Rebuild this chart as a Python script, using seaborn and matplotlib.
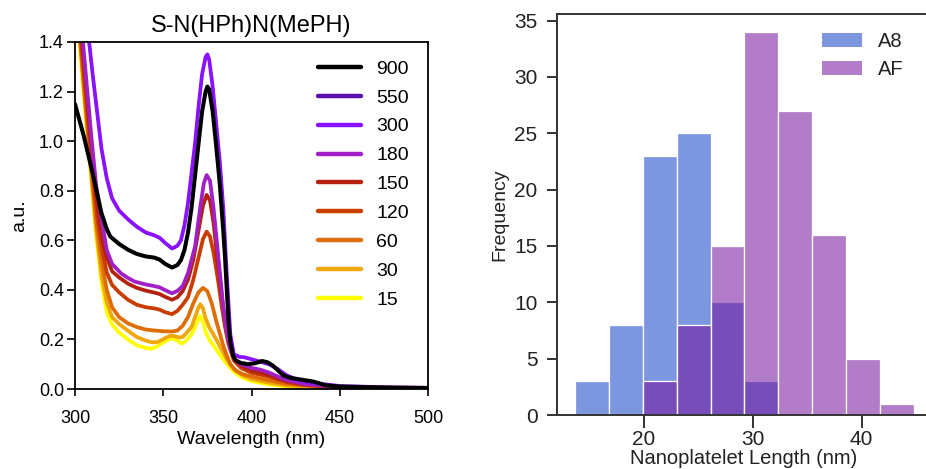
import numpy as np
import pandas as pd
import matplotlib
matplotlib.use("Agg")
import matplotlib.pyplot as plt
from matplotlib.patches import Patch
from matplotlib.lines import Line2D
import seaborn as sns

sns.set_style("ticks")
plt.rcParams['font.family'] = ['Liberation Sans', 'DejaVu Sans']
plt.rcParams['text.color'] = 'black'
plt.rcParams['axes.labelcolor'] = 'black'
plt.rcParams['xtick.color'] = 'black'
plt.rcParams['ytick.color'] = 'black'

# ---------------- Left panel data (absorbance spectra) ----------------
title_left = "S-N(HPh)N(MePH)"
series_labels = ["900", "550", "300", "180", "150", "120", "60", "30", "15"]
series_colors = ["#000000", "#5b0fae", "#8a12ff", "#a11fc4", "#b4220e",
                 "#c93d02", "#de6d05", "#f0a70c", "#ffff00"]

wl_900 = [300, 305, 310, 315, 318, 320, 325, 330, 335, 340, 345, 348, 351, 355, 358, 360, 362,
          364, 366, 368, 370, 372, 374, 375, 376, 378, 380, 382, 384, 385, 386, 387, 388, 389.5,
          391, 394, 398, 402, 406, 409, 412, 415, 418, 422, 428, 435, 442, 450, 475, 500]
ab_900 = [1.15, 1.02, 0.87, 0.71, 0.645, 0.615, 0.585, 0.562, 0.545, 0.535, 0.53, 0.522, 0.505,
          0.49, 0.5, 0.52, 0.56, 0.63, 0.73, 0.86, 0.99, 1.12, 1.2, 1.22, 1.21, 1.12, 0.98, 0.83,
          0.64, 0.53, 0.4, 0.27, 0.19, 0.135, 0.115, 0.105, 0.1, 0.104, 0.113, 0.108, 0.095,
          0.075, 0.055, 0.045, 0.038, 0.03, 0.015, 0.01, 0.006, 0.004]

wl_300 = [300, 305, 308, 310, 312, 315, 318, 321, 325, 330, 335, 340, 345, 348, 351, 355, 358,
          360, 362, 364, 366, 368, 370, 372, 374, 375, 376, 378, 380, 382, 384, 386, 388, 390,
          393, 396, 400, 405, 410, 415, 420, 425, 430, 440, 450, 475, 500]
ab_300 = [1.9, 1.6, 1.4, 1.27, 1.15, 0.97, 0.85, 0.77, 0.72, 0.685, 0.655, 0.632, 0.62, 0.61,
          0.59, 0.567, 0.578, 0.6, 0.66, 0.75, 0.87, 0.99, 1.14, 1.27, 1.34, 1.35, 1.33, 1.22,
          1.07, 0.92, 0.73, 0.46, 0.22, 0.14, 0.13, 0.128, 0.12, 0.11, 0.1, 0.08, 0.055, 0.04,
          0.03, 0.02, 0.012, 0.007, 0.005]

wl_550 = [300, 305, 308, 310, 312, 315, 318, 321, 325, 330, 335, 340, 345, 348, 351, 355, 358,
          360, 362, 364, 366, 368, 370, 372, 374, 375, 376, 378, 380, 382, 384, 386, 388, 390,
          393, 396, 400, 405, 410, 415, 420, 425, 430, 440, 450, 475, 500]
ab_550 = [1.9, 1.6, 1.4, 1.268, 1.148, 0.968, 0.848, 0.768, 0.718, 0.683, 0.653, 0.63, 0.618,
          0.608, 0.588, 0.565, 0.576, 0.598, 0.658, 0.748, 0.868, 0.988, 1.138, 1.268, 1.338,
          1.348, 1.328, 1.218, 1.068, 0.918, 0.728, 0.459, 0.219, 0.139, 0.129, 0.127, 0.119,
          0.109, 0.099, 0.079, 0.054, 0.039, 0.029, 0.019, 0.011, 0.006, 0.004]

wl_180 = [300, 304.5, 307, 309.5, 312, 315, 318, 321, 326, 330, 334, 340, 345, 348, 351, 355,
          358, 361, 364, 368, 371, 373, 374.6, 376.5, 378.4, 381.2, 384, 386, 388, 391, 394, 400,
          405, 410, 415, 420, 430, 450, 500]
ab_180 = [2.0, 1.4, 1.2, 1.0, 0.82, 0.69, 0.56, 0.505, 0.467, 0.448, 0.433, 0.422, 0.415, 0.41,
          0.399, 0.386, 0.396, 0.415, 0.467, 0.574, 0.735, 0.83, 0.863, 0.84, 0.735, 0.534,
          0.332, 0.23, 0.16, 0.115, 0.1, 0.085, 0.078, 0.066, 0.05, 0.036, 0.02, 0.008, 0.003]

wl_150 = [300, 304, 306.5, 309, 312, 314, 316, 318, 321, 325, 330, 335, 340, 345, 348, 351, 355,
          358, 361, 364, 367, 370, 372.5, 374.6, 376.5, 378.5, 381, 383, 385, 387, 390, 394, 400,
          405, 410, 415, 420, 430, 450, 500]
ab_150 = [1.95, 1.4, 1.2, 1.0, 0.78, 0.67, 0.59, 0.53, 0.475, 0.45, 0.425, 0.408, 0.397, 0.389,
          0.383, 0.372, 0.36, 0.37, 0.395, 0.44, 0.52, 0.64, 0.74, 0.783, 0.76, 0.67, 0.5, 0.38,
          0.27, 0.19, 0.125, 0.095, 0.075, 0.066, 0.056, 0.043, 0.032, 0.018, 0.007, 0.003]

wl_120 = [300, 303.5, 306, 308, 311, 313, 316, 318, 321, 325, 330, 335, 340, 345, 348, 351, 355,
          358, 361, 364, 367, 370, 372.5, 374.6, 376.5, 378.5, 381, 383, 385, 387, 390, 394, 400,
          405, 410, 415, 420, 430, 450, 500]
ab_120 = [1.9, 1.4, 1.2, 1.03, 0.8, 0.67, 0.54, 0.47, 0.42, 0.39, 0.36, 0.34, 0.33, 0.325, 0.32,
          0.31, 0.302, 0.315, 0.34, 0.37, 0.44, 0.53, 0.605, 0.635, 0.615, 0.55, 0.44, 0.34, 0.25,
          0.18, 0.115, 0.085, 0.065, 0.058, 0.05, 0.038, 0.028, 0.016, 0.006, 0.003]

wl_60 = [300, 303, 305, 307, 310, 312, 315, 318, 321, 325, 330, 335, 340, 345, 350, 355, 358,
         361, 364, 367, 370, 372.5, 375, 377.5, 380, 382, 384, 386, 388, 391, 395, 400, 410, 420,
         450, 500]
ab_60 = [1.8, 1.4, 1.22, 1.06, 0.83, 0.68, 0.52, 0.4, 0.33, 0.29, 0.265, 0.25, 0.24, 0.236,
         0.233, 0.232, 0.236, 0.255, 0.29, 0.345, 0.39, 0.408, 0.395, 0.345, 0.275, 0.225, 0.175,
         0.135, 0.1, 0.075, 0.06, 0.05, 0.035, 0.02, 0.006, 0.002]

wl_30 = [300, 303, 305, 307, 310, 312, 315, 318, 321, 325, 330, 335, 340, 344, 347, 351, 354,
         356, 359, 361, 363, 366, 368, 370, 371, 372.5, 374, 376, 378, 380, 383, 386, 390, 395,
         400, 410, 420, 450, 500]
ab_30 = [1.75, 1.4, 1.22, 1.05, 0.8, 0.64, 0.46, 0.35, 0.29, 0.262, 0.235, 0.21, 0.195, 0.188,
         0.19, 0.205, 0.215, 0.214, 0.208, 0.21, 0.225, 0.25, 0.29, 0.33, 0.342, 0.325, 0.285,
         0.25, 0.225, 0.2, 0.16, 0.12, 0.08, 0.055, 0.04, 0.025, 0.014, 0.004, 0.002]

wl_15 = [300, 302.5, 305, 307, 310, 312, 315, 318, 321, 325, 330, 335, 340, 343, 346, 350, 353,
         355, 358, 360.5, 363, 366, 368, 370, 371, 372.5, 374, 376, 378, 380, 382, 385, 390, 395,
         400, 410, 420, 450, 500]
ab_15 = [1.75, 1.4, 1.18, 1.02, 0.78, 0.62, 0.43, 0.31, 0.26, 0.228, 0.2, 0.176, 0.166, 0.162,
         0.17, 0.188, 0.2, 0.205, 0.195, 0.183, 0.195, 0.22, 0.25, 0.285, 0.295, 0.27, 0.23, 0.2,
         0.18, 0.16, 0.14, 0.11, 0.07, 0.045, 0.032, 0.018, 0.01, 0.003, 0.002]

spectra = {
    "900": (wl_900, ab_900), "550": (wl_550, ab_550), "300": (wl_300, ab_300),
    "180": (wl_180, ab_180), "150": (wl_150, ab_150), "120": (wl_120, ab_120),
    "60": (wl_60, ab_60), "30": (wl_30, ab_30), "15": (wl_15, ab_15),
}
draw_order = ["15", "30", "60", "120", "150", "180", "550", "300", "900"]

# ---------------- Right panel data (histogram) ----------------
bin_edges = [13.67, 16.78, 19.89, 23.0, 26.11, 29.22, 32.33, 35.44, 38.55, 41.66, 44.77]
counts_A8 = [3, 8, 23, 25, 10, 3, 0, 0, 0, 0]
counts_AF = [0, 0, 3, 8, 15, 34, 27, 16, 5, 1]
hist_labels = ["A8", "AF"]
hist_colors = ["#1340c8", "#73119b"]

# ---------------- Figure ----------------
W, H = 926, 469
fig = plt.figure(figsize=(W / 100, H / 100), dpi=100)

ax1 = fig.add_axes([75 / W, 1 - 389 / H, 353 / W, 347 / H])
for lab in draw_order:
    x, y = spectra[lab]
    col = series_colors[series_labels.index(lab)]
    lw = 2.9 if lab == "900" else (1.8 if lab == "550" else 2.7)
    sns.lineplot(x=x, y=y, ax=ax1, color=col, lw=lw,
                 sort=False, estimator=None, legend=False)

ax1.set_xlim(300, 500)
ax1.set_ylim(0, 1.4)
ax1.set_xticks([300, 350, 400, 450, 500])
ax1.set_yticks(np.arange(0, 1.41, 0.2))
ax1.set_yticklabels([f"{v:.1f}" for v in np.arange(0, 1.41, 0.2)])
ax1.tick_params(axis='y', labelsize=13, length=6, width=1.2, pad=2, direction='out')
ax1.tick_params(axis='x', labelsize=13, length=5, width=1.2, pad=10, direction='out')
for s in ax1.spines.values():
    s.set_linewidth(1.3)
    s.set_color("black")
ax1.set_xlabel("Wavelength (nm)", fontsize=14, labelpad=3)
ax1.set_ylabel("a.u.", fontsize=14, labelpad=8)
ax1.set_title(title_left, fontsize=17, pad=7)

handles = [Line2D([0], [0], color=c, lw=3.2) for c in series_colors]
ax1.legend(handles, series_labels, loc="upper left", bbox_to_anchor=(0.688, 0.948),
           frameon=False, fontsize=14, handlelength=2.2, handletextpad=0.8,
           labelspacing=0.58, borderpad=0, borderaxespad=0)

# Right panel
ax2 = fig.add_axes([557 / W, 1 - 415 / H, (930 - 557) / W, 401 / H])
centers = [(bin_edges[i] + bin_edges[i + 1]) / 2 for i in range(len(bin_edges) - 1)]
for lab, cnt, col in zip(hist_labels, [counts_A8, counts_AF], hist_colors):
    sns.histplot(x=centers, weights=cnt, bins=bin_edges, ax=ax2, color=col, alpha=0.55,
                 edgecolor="white", linewidth=0.9, element="bars")
ax2.set_xlim(12.0, 46.28)
ax2.set_ylim(0, 35.58)
ax2.set_xticks([20, 30, 40])
ax2.set_yticks(range(0, 36, 5))
ax2.tick_params(axis='both', labelsize=15, colors="#222222", width=1.3)
ax2.tick_params(axis='y', length=7, pad=7)
ax2.tick_params(axis='x', length=9, pad=2)
ax2.spines['right'].set_visible(False)
for s in ['left', 'bottom', 'top']:
    ax2.spines[s].set_linewidth(1.4)
    ax2.spines[s].set_color("#333333")
ax2.set_xlabel("Nanoplatelet Length (nm)", fontsize=14.5, labelpad=0, color="#222222")
ax2.set_ylabel("Frequency", fontsize=14, labelpad=4, color="#222222")

patches = [Patch(facecolor=c, alpha=0.55, edgecolor="none") for c in hist_colors]
ax2.legend(patches, hist_labels, loc="upper left",
           bbox_to_anchor=((822 - 557) / 373, 1 - (36 - 14) / 401 + 0.01),
           frameon=False, fontsize=14.5, handlelength=2.0, handleheight=0.7,
           handletextpad=0.8, labelspacing=0.45, borderpad=0, borderaxespad=0,
           labelcolor="#222222")

fig.savefig("out.png", dpi=100)
